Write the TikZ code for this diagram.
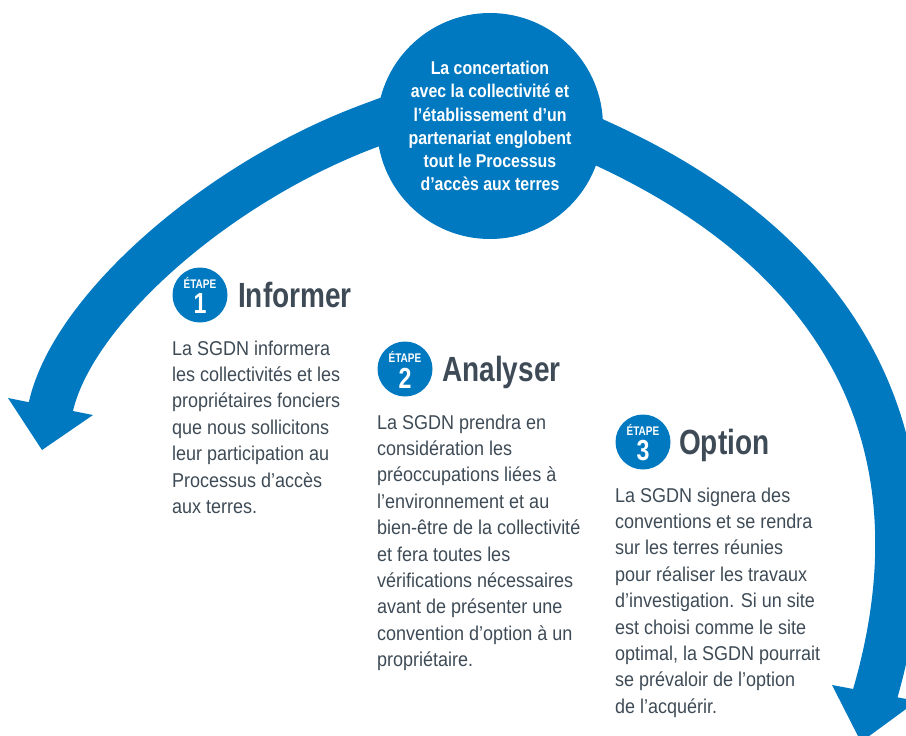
\documentclass[tikz,border=0pt]{standalone}
\usepackage{fontspec}
\setmainfont{Liberation Sans}
\newfontfamily\bodyfont[FakeStretch=0.9]{Liberation Sans}
\newfontfamily\headfont[FakeStretch=0.8]{Liberation Sans}
\newfontfamily\hubfont[FakeStretch=0.86]{Liberation Sans}
\definecolor{brandblue}{HTML}{0079C1}
\definecolor{slate}{HTML}{3E4B56}
\begin{document}
\begin{tikzpicture}[x=1pt,y=-1pt,
  band/.style={line width=45pt, draw=brandblue, line cap=butt},
  tipfill/.style={fill=brandblue},
  hub/.style={circle, fill=brandblue, minimum size=226pt, inner sep=0pt, text=white, align=center,
    font=\hubfont\bfseries\fontsize{18.5}{23.1}\selectfont},
  badge/.style={circle, fill=brandblue, minimum size=55pt, inner sep=0pt},
  etape/.style={text=white, inner sep=0pt, font=\headfont\bfseries\fontsize{12.5}{14}\selectfont},
  num/.style={text=white, inner sep=0pt, font=\headfont\bfseries\fontsize{29}{31}\selectfont},
  head/.style={text=slate, inner sep=0pt, anchor=base west, font=\headfont\bfseries\fontsize{35}{40}\selectfont},
  body/.style={text=slate, inner sep=0pt, anchor=north west, align=left,
    font=\bodyfont\fontsize{20}{26.4}\selectfont}
]
\useasboundingbox (0,0) rectangle (906,736);
\clip (0,0) rectangle (906,736);

% ---- band, left arm
\coordinate (la) at (435,101.5);
\coordinate (lb) at (369,126);
\coordinate (lc1) at (214,184);
\coordinate (lc2) at (70,313);
\coordinate (ld) at (50.4,409);
\draw[band] (la) -- (lb) .. controls (lc1) and (lc2) .. (ld);
\coordinate (lt1) at (8,398);
\coordinate (lt2) at (42,450);
\coordinate (lt3) at (93,415);
\fill[tipfill] (lt1) -- (lt2) -- (lt3) -- cycle;

% ---- band, right arm
\coordinate (ra) at (548.5,119);
\coordinate (rb) at (603,144);
\coordinate (rc1) at (857,261);
\coordinate (rc2) at (944.5,456);
\coordinate (rd) at (874.5,696);
\draw[band] (ra) -- (rb) .. controls (rc1) and (rc2) .. (rd);
\coordinate (rt1) at (832,685);
\coordinate (rt2) at (861,742);
\coordinate (rt3) at (917,701);
\fill[tipfill] (rt1) -- (rt2) -- (rt3) -- cycle;

% ---- hub
\node[hub] (hub) at (490,126) {La concertation\\avec la collectivité et\\l’établissement d’un\\partenariat englobent\\tout le Processus\\d’accès aux terres};

% ---- step 1
\node[badge] (b1) at (200,295) {};
\node[etape] (b1e) at ([yshift=12.5pt]b1.center) {ÉTAPE};
\node[num] (b1n) at ([yshift=-9pt]b1.center) {1};
\node[head] (h1) at ([xshift=38pt,yshift=-12.5pt]b1.center) {Informer};
\node[body] (t1) at ([xshift=-28pt,yshift=-45.4pt]b1.center) {La SGDN informera\\les collectivités et les\\propriétaires fonciers\\que nous sollicitons\\leur participation au\\Processus d’accès\\aux terres.};

% ---- step 2
\node[badge] (b2) at (405,369) {};
\node[etape] (b2e) at ([yshift=12.5pt]b2.center) {ÉTAPE};
\node[num] (b2n) at ([yshift=-9pt]b2.center) {2};
\node[head] (h2) at ([xshift=37pt,yshift=-12.5pt]b2.center) {Analyser};
\node[body] (t2) at ([xshift=-28pt,yshift=-45.4pt]b2.center) {La SGDN prendra en\\considération les\\préoccupations liées à\\l’environnement et au\\bien-être de la collectivité\\et fera toutes les\\vérifications nécessaires\\avant de présenter une\\convention d’option à un\\propriétaire.};

% ---- step 3
\node[badge] (b3) at (643,442) {};
\node[etape] (b3e) at ([yshift=12.5pt]b3.center) {ÉTAPE};
\node[num] (b3n) at ([yshift=-9pt]b3.center) {3};
\node[head] (h3) at ([xshift=36pt,yshift=-12.5pt]b3.center) {Option};
\node[body] (t3) at ([xshift=-28pt,yshift=-45.4pt]b3.center) {La SGDN signera des\\conventions et se rendra\\sur les terres réunies\\pour réaliser les travaux\\d’investigation. Si un site\\est choisi comme le site\\optimal, la SGDN pourrait\\se prévaloir de l’option\\de l’acquérir.};
\end{tikzpicture}
\end{document}
